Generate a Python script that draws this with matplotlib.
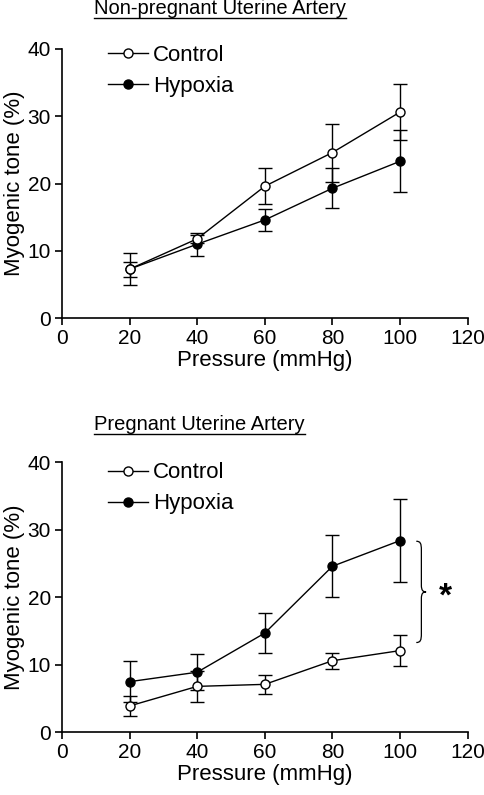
import numpy as np
import matplotlib.pyplot as plt
from matplotlib.lines import Line2D
from matplotlib.path import Path
from matplotlib.patches import PathPatch

plt.rcParams['font.family'] = ['Liberation Sans', 'DejaVu Sans']

pressure = [20, 40, 60, 80, 100]

# non-pregnant uterine artery
np_control = [7.3, 11.8, 19.6, 24.6, 30.6]
np_control_err = [1.1, 0.6, 2.7, 4.3, 4.2]
np_hypoxia = [7.3, 11.0, 14.6, 19.3, 23.3]
np_hypoxia_err = [2.4, 1.7, 1.6, 3.0, 4.6]

# pregnant uterine artery
p_control = [3.9, 6.8, 7.1, 10.6, 12.1]
p_control_err = [1.5, 2.3, 1.4, 1.2, 2.3]
p_hypoxia = [7.5, 8.9, 14.7, 24.6, 28.4]
p_hypoxia_err = [3.0, 2.7, 3.0, 4.6, 6.2]

titles = ["Non-pregnant Uterine Artery", "Pregnant Uterine Artery"]

fig = plt.figure(figsize=(4.85, 7.95), dpi=100)
ax_top = fig.add_axes([0.1278, 0.5996, 0.8365, 0.3391])
ax_bot = fig.add_axes([0.1278, 0.0789, 0.8365, 0.3396])


def draw_panel(ax, ctrl, ctrl_err, hyp, hyp_err, leg_y):
    ax.errorbar(pressure, hyp, yerr=hyp_err, color='black', lw=1.0,
                marker='o', ms=6.5, mfc='black', mec='black',
                capsize=5, capthick=1.0, elinewidth=1.0, zorder=3)
    ax.errorbar(pressure, ctrl, yerr=ctrl_err, color='black', lw=1.0,
                marker='o', ms=6.5, mfc='white', mec='black', mew=1.0,
                capsize=5, capthick=1.0, elinewidth=1.0, zorder=4)
    ax.set_xlim(0, 120)
    ax.set_ylim(0, 40)
    ax.set_xticks([0, 20, 40, 60, 80, 100, 120])
    ax.set_yticks([0, 10, 20, 30, 40])
    for s in ['top', 'right']:
        ax.spines[s].set_visible(False)
    for s in ['left', 'bottom']:
        ax.spines[s].set_linewidth(1.2)
    ax.tick_params(direction='out', length=5, width=1.2, labelsize=15, pad=3)
    ax.set_xlabel("Pressure (mmHg)", fontsize=16, labelpad=1)
    ax.set_ylabel("Myogenic tone (%)", fontsize=16, labelpad=2)
    handles = [
        Line2D([], [], color='black', lw=1.0, marker='o', ms=6.5, mfc='white', mec='black'),
        Line2D([], [], color='black', lw=1.0, marker='o', ms=6.5, mfc='black', mec='black'),
    ]
    ax.legend(handles, ["Control", "Hypoxia"], loc='upper left',
              bbox_to_anchor=(0.063, leg_y), frameon=False, fontsize=16,
              handlelength=1.8, handletextpad=0.23, labelspacing=0.45)


draw_panel(ax_top, np_control, np_control_err, np_hypoxia, np_hypoxia_err, 1.088)
draw_panel(ax_bot, p_control, p_control_err, p_hypoxia, p_hypoxia_err, 1.074)

# significance brace on the pregnant panel
x_l, x_m, x_t = 104.8, 106.3, 107.7
y_hi, y_lo = 28.3, 13.3
y_mid = (y_hi + y_lo) / 2
verts = [
    (x_l, y_hi), (x_m - 0.3, y_hi), (x_m, y_hi - 0.3), (x_m, y_hi - 1.3),
    (x_m, y_mid + 1.0),
    (x_m, y_mid + 0.2), (x_m + 0.5, y_mid), (x_t, y_mid),
    (x_m + 0.5, y_mid), (x_m, y_mid - 0.2), (x_m, y_mid - 1.0),
    (x_m, y_lo + 1.3),
    (x_m, y_lo + 0.3), (x_m - 0.3, y_lo), (x_l, y_lo),
]
codes = [Path.MOVETO, Path.CURVE4, Path.CURVE4, Path.CURVE4,
         Path.LINETO,
         Path.CURVE4, Path.CURVE4, Path.CURVE4,
         Path.CURVE4, Path.CURVE4, Path.CURVE4,
         Path.LINETO,
         Path.CURVE4, Path.CURVE4, Path.CURVE4]
ax_bot.add_patch(PathPatch(Path(verts, codes), fc='none', ec='black', lw=0.9,
                           clip_on=False))
ax_bot.text(113.5, 20.0, "*", fontsize=24, fontweight='bold', va='center', ha='center',
            clip_on=False)

# underlined panel titles
title_y = [1 - 9 / 795, 1 - 425 / 795]
title_texts = []
for t, y in zip(titles, title_y):
    title_texts.append(fig.text(0.194, y, t, fontsize=14.5, ha='left', va='center'))

fig.canvas.draw()
renderer = fig.canvas.get_renderer()
for tt in title_texts:
    bb = tt.get_window_extent(renderer).transformed(fig.transFigure.inverted())
    fig.add_artist(Line2D([bb.x0, bb.x1], [bb.y0 + 0.001, bb.y0 + 0.001],
                          color='black', lw=1.0, transform=fig.transFigure))

fig.savefig("out.png", dpi=100)
